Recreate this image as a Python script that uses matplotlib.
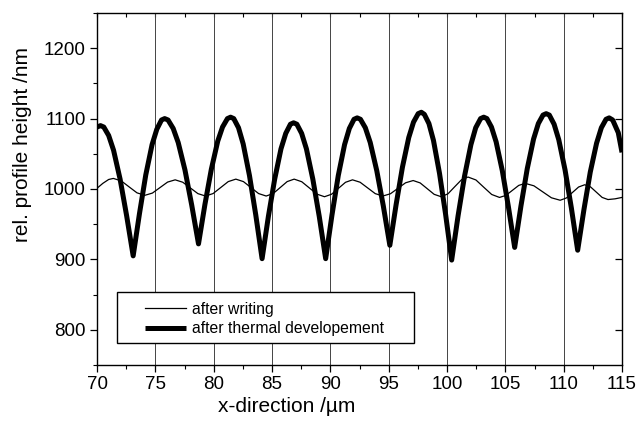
import matplotlib
matplotlib.use("Agg")
import matplotlib.pyplot as plt
from matplotlib.patches import Rectangle
from matplotlib.ticker import MultipleLocator

plt.rcParams["font.family"] = ["Liberation Sans", "DejaVu Sans"]

# Profile after writing (thin trace)
x_writing = [70.0, 70.5, 71.0, 71.4, 72.08, 72.75, 73.43, 74.1, 74.75, 75.4, 76.05, 76.7,
             77.35, 78.0, 78.65, 79.3, 79.95, 80.6, 81.25, 81.9, 82.55, 83.2, 83.85, 84.5,
             85.1, 85.7, 86.3, 86.9, 87.55, 88.2, 88.85, 89.5, 90.1, 90.7, 91.3, 91.9,
             92.55, 93.2, 93.85, 94.5, 95.15, 95.8, 96.45, 97.1, 97.7, 98.3, 98.9, 99.5,
             100.08, 100.65, 101.23, 101.8, 102.48, 103.15, 103.83, 104.5, 105.05, 105.6,
             106.15, 106.7, 107.45, 108.2, 108.95, 109.7, 110.23, 110.75, 111.28, 111.8,
             112.3, 112.8, 113.3, 113.8, 114.4, 115.0]
y_writing = [1001, 1008, 1013.5, 1015, 1011.5, 1003, 994.5, 991, 994.2, 1002, 1009.8, 1013,
             1009.6, 1001.5, 993.4, 990, 993.5, 1002, 1010.5, 1014, 1010.5, 1002, 993.5, 990,
             993.5, 1002, 1010.5, 1014, 1010.3, 1001.5, 992.7, 989, 992.5, 1001, 1009.5, 1013,
             1009.6, 1001.5, 993.4, 990, 993.2, 1001, 1008.8, 1012, 1008.6, 1000.5, 992.4, 989,
             993.1, 1003, 1012.9, 1017, 1012.8, 1002.5, 992.2, 988, 990.9, 998,
             1005.1, 1008, 1004.5, 996, 987.5, 984, 987.2, 995, 1002.8, 1006,
             1003, 995.5, 988, 985, 986, 988]

# Profile after thermal development (thick trace)
x_developed = [70.0, 70.3, 70.58, 71.0, 71.42, 71.98, 72.54, 73.1,
               73.64, 74.18, 74.72, 75.13, 75.53, 75.8,
               76.09, 76.53, 76.96, 77.54, 78.12, 78.7,
               79.25, 79.8, 80.35, 80.76, 81.18, 81.45,
               81.72, 82.13, 82.53, 83.07, 83.61, 84.15,
               84.69, 85.23, 85.77, 86.18, 86.58, 86.85,
               87.13, 87.54, 87.95, 88.5, 89.05, 89.6,
               90.14, 90.68, 91.22, 91.63, 92.03, 92.3,
               92.58, 93.0, 93.42, 93.98, 94.54, 95.1,
               95.64, 96.18, 96.72, 97.13, 97.53, 97.8,
               98.06, 98.45, 98.84, 99.36, 99.88, 100.4,
               100.95, 101.5, 102.05, 102.46, 102.88, 103.15,
               103.42, 103.81, 104.21, 104.74, 105.27, 105.8,
               106.34, 106.88, 107.42, 107.83, 108.23, 108.5,
               108.77, 109.18, 109.58, 110.12, 110.66, 111.2,
               111.74, 112.28, 112.82, 113.23, 113.63, 113.9,
               114.2, 114.68, 115.0]
y_developed = [1088, 1090, 1088, 1076, 1055, 1014, 962, 905,
               965, 1020, 1063, 1085, 1098, 1100,
               1098, 1086, 1066, 1027, 977, 922,
               978, 1028, 1068, 1088, 1100, 1102,
               1100, 1087, 1064, 1019, 963, 901,
               961, 1014, 1057, 1079, 1092, 1094,
               1092, 1079, 1057, 1014, 961, 901,
               963, 1019, 1063, 1086, 1099, 1101,
               1099, 1087, 1066, 1026, 976, 920,
               978, 1031, 1073, 1095, 1107, 1109,
               1106, 1093, 1069, 1022, 964, 899,
               962, 1018, 1063, 1087, 1100, 1102,
               1100, 1088, 1067, 1026, 974, 917,
               976, 1029, 1071, 1093, 1105, 1107,
               1105, 1092, 1070, 1027, 973, 913,
               971, 1024, 1065, 1087, 1099, 1101,
               1098, 1080, 1052]

grid_x = [75, 80, 85, 90, 95, 100, 105, 110]
series_labels = ["after writing", "after thermal developement"]

fig = plt.figure(figsize=(6.39, 4.30), dpi=100)
ax = fig.add_axes([0.1518, 0.1512, 0.8216, 0.8186])

for gx in grid_x:
    ax.axvline(gx, color="#444444", linewidth=0.7, zorder=1)

ax.plot(x_writing, y_writing, color="black", linewidth=0.9, zorder=3,
        label=series_labels[0])
ax.plot(x_developed, y_developed, color="black", linewidth=3.6, zorder=4,
        solid_joinstyle="round", solid_capstyle="butt", label=series_labels[1])

ax.set_xlim(70, 115)
ax.set_ylim(750, 1250)
ax.xaxis.set_major_locator(MultipleLocator(5))
ax.xaxis.set_minor_locator(MultipleLocator(2.5))
ax.yaxis.set_major_locator(MultipleLocator(100))
ax.yaxis.set_minor_locator(MultipleLocator(50))

for side in ax.spines.values():
    side.set_linewidth(1.0)

ax.tick_params(axis="both", which="major", labelsize=13.5, length=5, width=0.9,
               color="black", pad=3)
ax.tick_params(axis="both", which="both", direction="out", top=False, right=False)
ax.tick_params(axis="both", which="minor", length=3, width=0.8)

# inward ticks on the top and right edges
ax_top = ax.secondary_xaxis("top")
ax_top.xaxis.set_major_locator(MultipleLocator(2.5))
ax_top.tick_params(direction="in", length=3, width=0.8, labeltop=False)
ax_top.spines["top"].set_visible(False)
ax_right = ax.secondary_yaxis("right")
ax_right.yaxis.set_major_locator(MultipleLocator(100))
ax_right.tick_params(direction="in", length=5, width=0.9, labelright=False)
ax_right.spines["right"].set_visible(False)

ax.set_xlabel("x-direction /\u00b5m", fontsize=15)
ax.xaxis.set_label_coords(0.362, -0.09)
ax.set_ylabel("rel. profile height /nm", fontsize=15)
ax.yaxis.set_label_coords(-0.124, 0.625)

# legend with a plain rectangular frame
ax.add_patch(Rectangle((0.038, 0.0625), 0.566, 0.145, transform=ax.transAxes,
                       facecolor="white", edgecolor="black", linewidth=1.0, zorder=5))
leg = ax.legend(loc="upper left", bbox_to_anchor=(0.092, 0.18), frameon=False,
                fontsize=11.3, handlelength=2.6, handletextpad=0.4,
                labelspacing=0.3, borderpad=0, borderaxespad=0)
leg.set_zorder(6)

fig.savefig("out.png", dpi=100)
